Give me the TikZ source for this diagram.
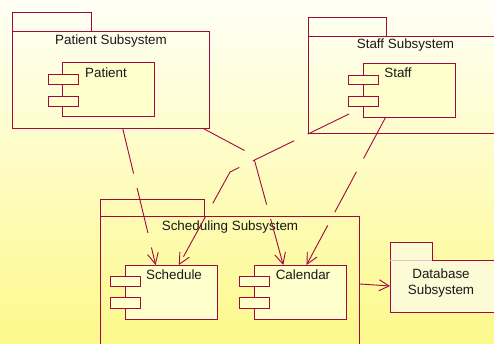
\documentclass[tikz,border=0pt]{standalone}
\usepackage{fontspec}
\setmainfont{Liberation Sans}
\usetikzlibrary{arrows.meta,calc}
\definecolor{umlline}{RGB}{162,8,64}
\definecolor{compfill}{RGB}{255,255,204}
\definecolor{dbfill}{RGB}{252,251,214}
\definecolor{bgtop}{RGB}{255,255,246}
\definecolor{bgbottom}{RGB}{252,249,140}
\definecolor{txt}{RGB}{25,25,25}
\tikzset{
  pkg/.style={draw=umlline, line width=0.9pt, rectangle, inner sep=0pt},
  comp/.style={draw=umlline, line width=0.9pt, fill=compfill, rectangle, inner sep=0pt,
    minimum width=92, minimum height=54, anchor=north west},
  port/.style={draw=umlline, line width=0.9pt, fill=compfill},
  lbl/.style={text=txt, font=\fontsize{13.4}{16}\selectfont, inner sep=0pt, align=center},
  dep/.style={draw=umlline, line width=0.9pt, dash pattern=on 46pt off 15pt,
    -{Straight Barb[length=11pt,width=11pt,line width=0.9pt]}},
  uses/.style={draw=umlline, line width=0.9pt,
    -{Straight Barb[length=10pt,width=11pt,line width=0.9pt]}},
}
\begin{document}
\begin{tikzpicture}[x=1pt,y=-1pt]
  \useasboundingbox (0,0) rectangle (494,343);
  \clip (0,0) rectangle (494,343);
  % backdrop
  \shade[top color=bgtop, bottom color=bgbottom] (0,0) rectangle (494,343);

  % ---- Patient Subsystem ----
  \node[pkg, minimum width=197, minimum height=97, anchor=north west] (patpkg) at (12,31) {};
  \draw[pkg] (patpkg.north west) rectangle ++(79,-19);
  \node[lbl] (patlbl) at (111,41) {Patient Subsystem};
  \node[comp] (pat) at (62,62) {};
  \draw[port] ($(pat.north west)+(-14,12)$) rectangle ++(30,10);
  \draw[port] ($(pat.north west)+(-14,34)$) rectangle ++(30,10);
  \node[lbl] (patname) at (106,73) {Patient};

  % ---- Staff Subsystem ----
  \node[pkg, minimum width=220, minimum height=97, anchor=north west] (staffpkg) at (308,36) {};
  \draw[pkg] (staffpkg.north west) rectangle ++(78,-19);
  \node[lbl] (stafflbl) at (405.5,45) {Staff Subsystem};
  \node[comp] (staff) at (363,63) {};
  \draw[port] ($(staff.north west)+(-15,12)$) rectangle ++(30,9);
  \draw[port] ($(staff.north west)+(-15,33)$) rectangle ++(30,10);
  \node[lbl] (staffname) at (398,73) {Staff};

  % ---- Scheduling Subsystem ----
  \node[pkg, minimum width=259, minimum height=150, anchor=north west] (schedpkg) at (100,216) {};
  \draw[pkg] (schedpkg.north west) rectangle ++(104,-17);
  \node[lbl] (schedlbl) at (230,227) {Scheduling Subsystem};
  \node[comp] (sched) at (125,265) {};
  \draw[port] ($(sched.north west)+(-15,11)$) rectangle ++(30,10);
  \draw[port] ($(sched.north west)+(-15,32)$) rectangle ++(30,11);
  \node[lbl] (schedname) at (174,275) {Schedule};
  \node[comp] (cal) at (254,265) {};
  \draw[port] ($(cal.north west)+(-15,11)$) rectangle ++(30,10);
  \draw[port] ($(cal.north west)+(-15,32)$) rectangle ++(30,11);
  \node[lbl] (calname) at (303,275) {Calendar};

  % ---- Database Subsystem ----
  \node[pkg, fill=dbfill, minimum width=130, minimum height=52, anchor=north west] (dbpkg) at (390,260) {};
  \draw[pkg, fill=dbfill] (dbpkg.north west) rectangle ++(42,-18);
  \draw[umlline!25, line width=0.6pt] (dbpkg.north west) -- ++(42,0);
  \node[lbl] (dblbl) at (441,283) {Database\\Subsystem};

  % ---- dependencies ----
  \coordinate (pcbend) at (253,155);
  \coordinate (ssstart) at (349,114);
  \coordinate (ssbend) at (230,172);
  \draw[dep] ($(patpkg.south west)!0.56!(patpkg.south east)$)
    -- ($(sched.north west)!0.33!(sched.north east)$);
  \draw[dep] ($(patpkg.south west)!0.97!(patpkg.south east)$) -- (pcbend)
    -- ($(cal.north west)!0.315!(cal.north east)$);
  \draw[dep] (ssstart) -- (ssbend)
    -- ($(sched.north west)!0.58!(sched.north east)$);
  \draw[dep] ($(staff.south west)!0.24!(staff.south east)$)
    -- ($(cal.north west)!0.565!(cal.north east)$);
  \draw[uses] ($(schedpkg.north east)+(0,68)$) -- ($(dbpkg.north west)+(0,26)$);
\end{tikzpicture}
\end{document}
